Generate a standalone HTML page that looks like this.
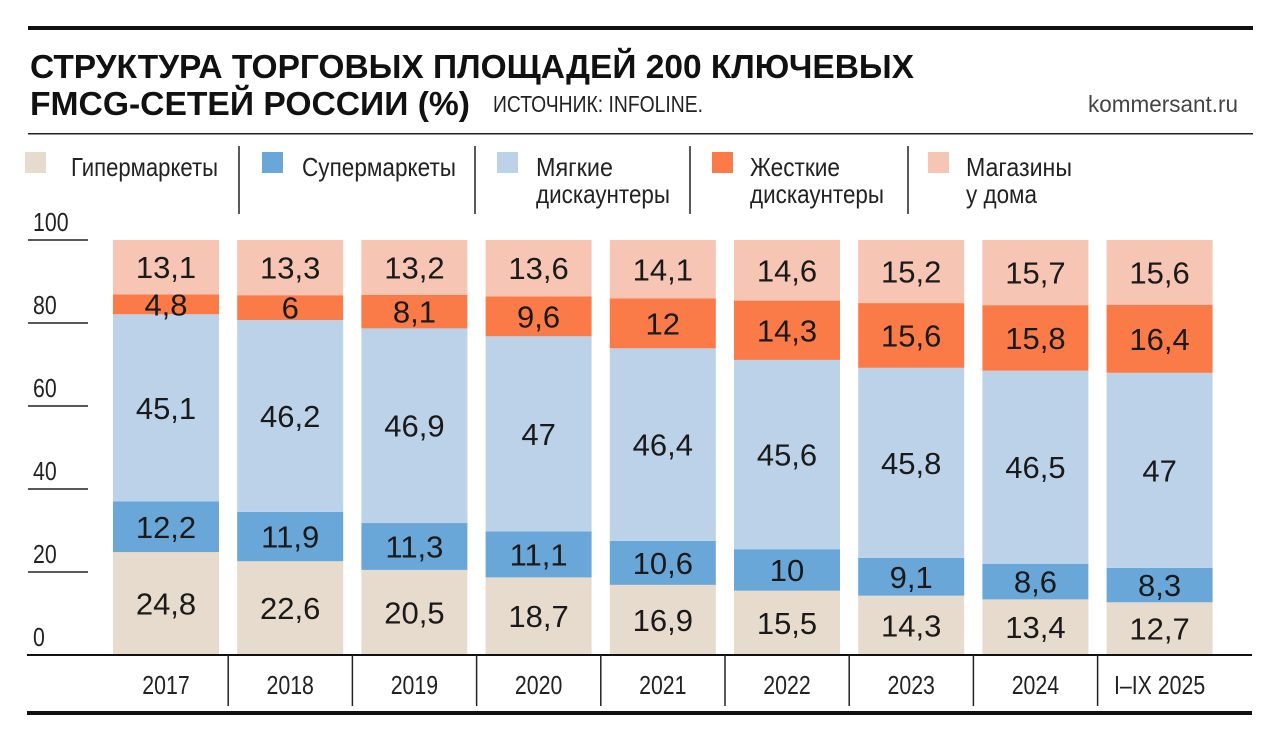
<!DOCTYPE html><html><head><meta charset="utf-8"><style>body{margin:0;background:#fff}svg{display:block}</style></head><body>
<svg width="1280" height="742" xmlns="http://www.w3.org/2000/svg" font-family="Liberation Sans, sans-serif">
<rect x="28" y="26" width="1225" height="4" fill="#111"/>
<text x="30" y="78" font-size="33" font-weight="900" fill="#111" textLength="884" lengthAdjust="spacingAndGlyphs">СТРУКТУРА ТОРГОВЫХ ПЛОЩАДЕЙ 200 КЛЮЧЕВЫХ</text>
<text x="30" y="115" font-size="33" font-weight="900" fill="#111" textLength="440" lengthAdjust="spacingAndGlyphs">FMCG-СЕТЕЙ РОССИИ (%)</text>
<text x="493" y="112" font-size="23" fill="#222" textLength="210" lengthAdjust="spacingAndGlyphs">ИСТОЧНИК: INFOLINE.</text>
<text x="1088" y="112" font-size="23" fill="#444" textLength="150" lengthAdjust="spacingAndGlyphs">kommersant.ru</text>
<rect x="28" y="133" width="1225" height="1.5" fill="#222"/>
<g font-size="26" fill="#222" lengthAdjust="spacingAndGlyphs">
<rect x="25" y="152" width="21" height="21" fill="#e6dbcc"/><text x="71" y="176" textLength="147" lengthAdjust="spacingAndGlyphs">Гипермаркеты</text>
<line x1="239" y1="146" x2="239" y2="214" stroke="#222" stroke-width="1.5"/>
<rect x="262" y="152" width="21" height="21" fill="#6aa7d9"/><text x="302" y="176" textLength="154" lengthAdjust="spacingAndGlyphs">Супермаркеты</text>
<line x1="475" y1="146" x2="475" y2="214" stroke="#222" stroke-width="1.5"/>
<rect x="497" y="152" width="21" height="21" fill="#bcd2e9"/><text x="536" y="176" textLength="77" lengthAdjust="spacingAndGlyphs">Мягкие</text><text x="536" y="203" textLength="134" lengthAdjust="spacingAndGlyphs">дискаунтеры</text>
<line x1="690" y1="146" x2="690" y2="214" stroke="#222" stroke-width="1.5"/>
<rect x="712" y="152" width="21" height="21" fill="#fb7b48"/><text x="750" y="176" textLength="90" lengthAdjust="spacingAndGlyphs">Жесткие</text><text x="750" y="203" textLength="134" lengthAdjust="spacingAndGlyphs">дискаунтеры</text>
<line x1="908" y1="146" x2="908" y2="214" stroke="#222" stroke-width="1.5"/>
<rect x="928" y="152" width="21" height="21" fill="#f6c5b4"/><text x="966" y="176" textLength="106" lengthAdjust="spacingAndGlyphs">Магазины</text><text x="966" y="203" textLength="71" lengthAdjust="spacingAndGlyphs">у дома</text>
</g>
<g font-size="26" fill="#222" id="yax"></g>
<g id="bars"></g>
<rect x="27" y="654" width="1225" height="2" fill="#111"/>
<rect x="27" y="711" width="1225" height="4" fill="#111"/>
<g id="xax" font-size="26" fill="#222" text-anchor="middle"></g>
<script>
var ns="http://www.w3.org/2000/svg";
function el(p,t,a,txt){var e=document.createElementNS(ns,t);for(var k in a)e.setAttribute(k,a[k]);if(txt!=null)e.textContent=txt;p.appendChild(e);return e;}
var ya=document.getElementById("yax");
for(var v=0;v<=100;v+=20){var y=655-4.15*v;var g=el(ya,"g",{transform:"translate(33,"+(y-9)+") scale(0.82,1)"});el(g,"text",{x:0,y:0},String(v));if(v>0)el(ya,"line",{x1:28,y1:y,x2:88,y2:y,stroke:"#222","stroke-width":1.5});}
var data=[[24.8,12.2,45.1,4.8,13.1],[22.6,11.9,46.2,6,13.3],[20.5,11.3,46.9,8.1,13.2],[18.7,11.1,47,9.6,13.6],[16.9,10.6,46.4,12,14.1],[15.5,10,45.6,14.3,14.6],[14.3,9.1,45.8,15.6,15.2],[13.4,8.6,46.5,15.8,15.7],[12.7,8.3,47,16.4,15.6]];
var cols=["#e6dbcc","#6aa7d9","#bcd2e9","#fb7b48","#f6c5b4"];
var labs=["2017","2018","2019","2020","2021","2022","2023","2024","I–IX 2025"];
var b=document.getElementById("bars"),xa=document.getElementById("xax");
data.forEach(function(d,i){var x=113+i*124.2,cum=0;var tot=d.reduce(function(a,c){return a+c},0);
d.forEach(function(v,j){var vv=v*100/tot;var y1=655-4.15*cum,y0=655-4.15*(cum+vv);
el(b,"rect",{x:x,y:y0,width:106,height:y1-y0,fill:cols[j]});
el(b,"text",{x:x+53,y:(y0+y1)/2+11,"text-anchor":"middle","font-size":31,fill:"#1a1a1a"},String(v).replace(".",","));cum+=vv;});
var g=el(xa,"g",{transform:"translate("+(x+53)+",694) scale(0.82,1)"});el(g,"text",{x:0,y:0},labs[i]);
if(i>0)el(xa,"line",{x1:x-9,y1:655,x2:x-9,y2:706,stroke:"#222","stroke-width":1.5});});
</script>
</svg></body></html>
